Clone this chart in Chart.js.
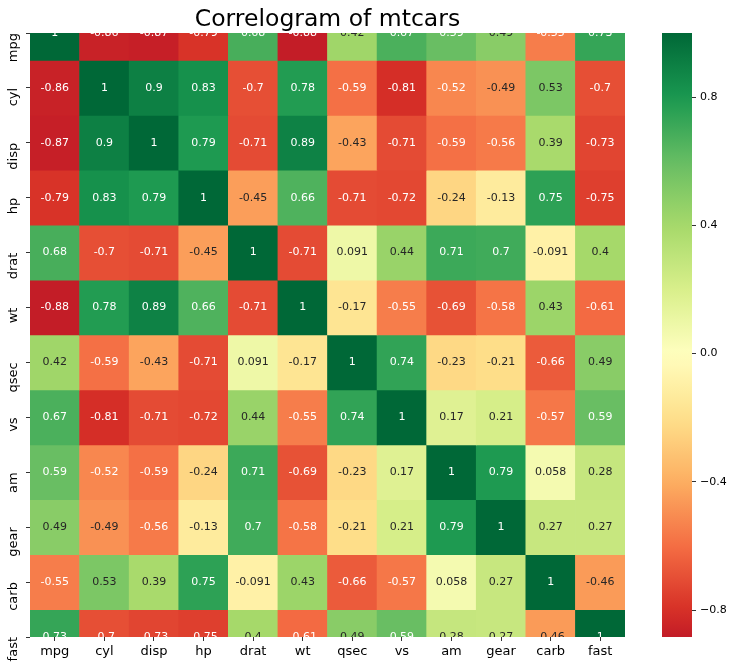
<!DOCTYPE html>
<html><head><meta charset="utf-8">
<script src="https://cdn.jsdelivr.net/npm/chart.js@4/dist/chart.umd.min.js"></script>
<style>
html,body{margin:0;padding:0;background:#fff;}
#wrap{position:relative;width:735px;height:667px;overflow:hidden;}
#heat{position:absolute;left:0;top:0;}
#cbar{position:absolute;left:600px;top:0;}
</style></head><body>
<div id="wrap"><canvas id="heat" width="735" height="667"></canvas><canvas id="cbar" width="135" height="667"></canvas></div>
<script>
const variables = ['mpg','cyl','disp','hp','drat','wt','qsec','vs','am','gear','carb','fast'];
const mpgRow  = [1, -0.86, -0.87, -0.79, 0.68, -0.88, 0.42, 0.67, 0.59, 0.49, -0.55, 0.73];
const cylRow  = [-0.86, 1, 0.9, 0.83, -0.7, 0.78, -0.59, -0.81, -0.52, -0.49, 0.53, -0.7];
const dispRow = [-0.87, 0.9, 1, 0.79, -0.71, 0.89, -0.43, -0.71, -0.59, -0.56, 0.39, -0.73];
const hpRow   = [-0.79, 0.83, 0.79, 1, -0.45, 0.66, -0.71, -0.72, -0.24, -0.13, 0.75, -0.75];
const dratRow = [0.68, -0.7, -0.71, -0.45, 1, -0.71, 0.091, 0.44, 0.71, 0.7, -0.091, 0.4];
const wtRow   = [-0.88, 0.78, 0.89, 0.66, -0.71, 1, -0.17, -0.55, -0.69, -0.58, 0.43, -0.61];
const qsecRow = [0.42, -0.59, -0.43, -0.71, 0.091, -0.17, 1, 0.74, -0.23, -0.21, -0.66, 0.49];
const vsRow   = [0.67, -0.81, -0.71, -0.72, 0.44, -0.55, 0.74, 1, 0.17, 0.21, -0.57, 0.59];
const amRow   = [0.59, -0.52, -0.59, -0.24, 0.71, -0.69, -0.23, 0.17, 1, 0.79, 0.058, 0.28];
const gearRow = [0.49, -0.49, -0.56, -0.13, 0.7, -0.58, -0.21, 0.21, 0.79, 1, 0.27, 0.27];
const carbRow = [-0.55, 0.53, 0.39, 0.75, -0.091, 0.43, -0.66, -0.57, 0.058, 0.27, 1, -0.46];
const fastRow = [0.73, -0.7, -0.73, -0.75, 0.4, -0.61, 0.49, 0.59, 0.28, 0.27, -0.46, 1];
const rows = [mpgRow, cylRow, dispRow, hpRow, dratRow, wtRow, qsecRow, vsRow, amRow, gearRow, carbRow, fastRow];
const colorbarTicks = [-0.8, -0.4, 0, 0.4, 0.8];
const colorbarTickLabels = ['\u22120.8', '\u22120.4', '0.0', '0.4', '0.8'];
const vmin = -0.884, vmax = 1;

// matplotlib RdYlGn anchors
const RdYlGn = [[165,0,38],[215,48,39],[244,109,67],[253,174,97],[254,224,139],[255,255,191],[217,239,139],[166,217,106],[102,189,99],[26,152,80],[0,104,55]];
function cmap(t){
  t = Math.max(0, Math.min(1, t));
  const p = t * (RdYlGn.length - 1);
  const i = Math.min(Math.floor(p), RdYlGn.length - 2);
  const f = p - i;
  const a = RdYlGn[i], b = RdYlGn[i+1];
  return [0,1,2].map(k => Math.round(a[k] + (b[k]-a[k])*f));
}
function cellRGB(v){ return cmap((v + 1) / 2); } // centered at 0
function cellColor(v){ const c = cellRGB(v); return `rgb(${c[0]},${c[1]},${c[2]})`; }
function textColor(v){
  const lin = cellRGB(v).map(c => { c /= 255; return c <= 0.03928 ? c/12.92 : Math.pow((c+0.055)/1.055, 2.4); });
  const lum = 0.2126*lin[0] + 0.7152*lin[1] + 0.0722*lin[2];
  return lum > 0.408 ? '#262626' : '#ffffff';
}

const FONT = 'DejaVu Sans';

const annotatePlugin = {
  id: 'annotate',
  afterDatasetsDraw(chart){
    const {ctx, chartArea: a, scales: {x, y}} = chart;
    ctx.save();
    ctx.beginPath(); ctx.rect(a.left, a.top, a.right - a.left, a.bottom - a.top); ctx.clip();
    ctx.font = `11px "${FONT}"`; ctx.textAlign = 'center'; ctx.textBaseline = 'middle';
    rows.forEach((vals, r) => vals.forEach((v, c) => {
      ctx.fillStyle = textColor(v);
      ctx.fillText(String(v), x.getPixelForValue(c), y.getPixelForValue(r));
    }));
    ctx.restore();
  }
};

new Chart(document.getElementById('heat'), {
  type: 'bar',
  data: {
    labels: variables,
    datasets: rows.map((vals, r) => ({
      label: variables[r],
      data: vals.map(() => [r - 0.5, r + 0.5]),
      backgroundColor: vals.map(cellColor),
      borderWidth: 0,
      barPercentage: 1, categoryPercentage: 1,
      grouped: false,
      clip: 0
    }))
  },
  options: {
    responsive: false, animation: false,
    layout: {padding: {left: 0, right: 110, top: 0, bottom: 0}},
    plugins: {
      legend: {display: false}, tooltip: {enabled: false},
      title: {display: true, text: 'Correlogram of mtcars', fullSize: false, color: '#000',
        font: {family: FONT, size: 23.5, weight: 'normal', lineHeight: 1}, padding: {top: 8.5, bottom: 1}}
    },
    scales: {
      x: {
        type: 'category', offset: true,
        grid: {display: true, drawOnChartArea: false, drawTicks: true, tickLength: 4, color: '#333', offset: false},
        border: {display: false},
        ticks: {color: '#000', font: {family: FONT, size: 13}, padding: 3, maxRotation: 0, autoSkip: false},
        afterFit: s => { s.height = 30; }
      },
      y: {
        type: 'linear', reverse: true, min: 0, max: 11,
        afterBuildTicks: s => { s.ticks = variables.map((_, i) => ({value: i})); },
        grid: {display: true, drawOnChartArea: false, drawTicks: true, tickLength: 4, color: '#333'},
        border: {display: false},
        ticks: {callback: (v) => variables[v], minRotation: 90, maxRotation: 90, crossAlign: 'near', padding: 12,
          color: '#000', font: {family: FONT, size: 13}, autoSkip: false},
        afterFit: s => { s.width = 30; }
      }
    }
  },
  plugins: [annotatePlugin]
});

function barGradient(chart){
  const area = chart.chartArea;
  if (!area) return cellColor(0);
  const y = chart.scales.y;
  const g = chart.ctx.createLinearGradient(0, y.getPixelForValue(vmax), 0, y.getPixelForValue(vmin));
  const n = 40;
  for (let i = 0; i <= n; i++){ const v = vmax + (vmin - vmax) * i / n; g.addColorStop(i / n, cellColor(v)); }
  return g;
}

new Chart(document.getElementById('cbar'), {
  type: 'bar',
  data: {labels: [''], datasets: [{data: [[vmin, vmax]], backgroundColor: ctx => barGradient(ctx.chart), borderWidth: 0,
    barPercentage: 1, categoryPercentage: 1, inflateAmount: 0}]},
  options: {
    responsive: false, animation: false,
    layout: {padding: {left: 62, top: 33, bottom: 30, right: 0}},
    plugins: {legend: {display: false}, tooltip: {enabled: false}},
    scales: {
      x: {display: false},
      y: {
        position: 'right', min: vmin, max: vmax,
        afterBuildTicks: s => { s.ticks = colorbarTicks.map(v => ({value: v})); },
        ticks: {callback: (v, i) => colorbarTickLabels[i], color: '#000', font: {family: FONT, size: 11}, padding: 4},
        grid: {display: true, drawOnChartArea: false, drawTicks: true, tickLength: 4, color: '#333'},
        border: {display: false},
        afterFit: s => { s.width = 43; }
      }
    }
  }
});
</script>
</body></html>
